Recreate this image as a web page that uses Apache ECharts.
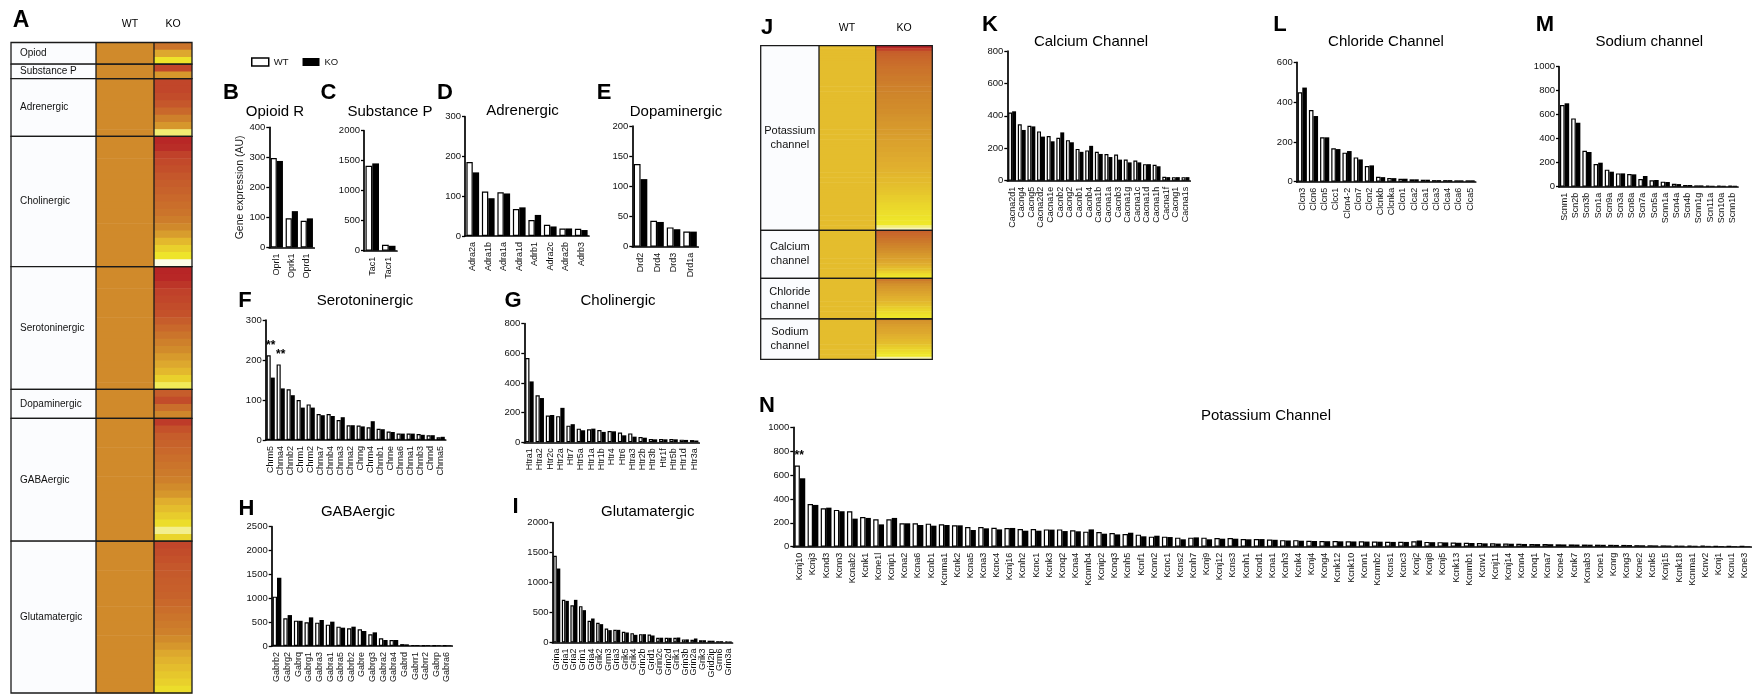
<!DOCTYPE html>
<html><head><meta charset="utf-8">
<script src="https://cdn.jsdelivr.net/npm/echarts@6/dist/echarts.min.js"></script>
<style>html,body{margin:0;padding:0;background:#fff}#c{width:1754px;height:698px}</style>
</head><body><div id="c"></div>
<script>
const FONT = '"Liberation Sans", Arial, Helvetica, sans-serif';

// ---------- Bar chart data ----------
const opioidGenes = ['Oprl1','Oprk1','Oprd1'];
const opioidWT = [298,97,89];
const opioidKO = [288,121,97];

const substancePGenes = ['Tac1','Tacr1'];
const substancePWT = [1415,100];
const substancePKO = [1455,82];

const adrenergicGenes = ['Adra2a','Adra1b','Adra1a','Adra1d','Adrb1','Adra2c','Adra2b','Adrb3'];
const adrenergicWT = [186,112,110,68,40,28,19,18];
const adrenergicKO = [160,95,107,72,53,24,19,15];

const dopaminergicGenes = ['Drd2','Drd4','Drd3','Drd1a'];
const dopaminergicWT = [137,43,32,25];
const dopaminergicKO = [112,41,29,25];

const serotoninergicGenes = ['Chrm5','Chrna4','Chrnb2','Chrm1','Chrm2','Chrna7','Chrnb4','Chrna3','Chrna2','Chrng','Chrm4','Chrnb1','Chrne','Chrna6','Chrna1','Chrnb3','Chrnd','Chrna5'];
const serotoninergicWT = [212,189,127,100,89,65,65,50,37,36,32,28,21,16,16,15,12,7];
const serotoninergicKO = [156,129,112,81,81,62,60,57,37,34,47,27,20,16,16,13,12,8];
const serotoninergicSignificant = ['Chrm5','Chrna4'];

const cholinergicGenes = ['Htra1','Htra2','Htr2c','Htr2a','Htr7','Htr5a','Htr1a','Htr1b','Htr4','Htr6','Htra3','Htr2b','Htr3b','Htr1f','Htr5b','Htr1d','Htr3a'];
const cholinergicWT = [568,316,180,176,112,92,88,82,76,66,60,36,22,22,22,18,15];
const cholinergicKO = [410,298,184,232,122,81,92,70,74,47,38,31,20,20,20,16,12];

const gabaergicGenes = ['Gabrb2','Gabrg2','Gabrq','Gabrg1','Gabra3','Gabra1','Gabra5','Gabrb2','Gabre','Gabrg3','Gabra2','Gabra4','Gabrd','Gabrr1','Gabrr2','Gabrp','Gabra6'];
const gabaergicWT = [1034,580,531,496,489,447,405,370,349,244,161,126,40,20,18,15,12];
const gabaergicKO = [1430,648,528,600,545,510,384,405,314,286,126,126,35,20,18,15,12];

const glutamatergicGenes = ['Grina','Gria1','Gria2','Grin1','Gria4','Grik2','Grm3','Gria3','Grik5','Grik4','Grin2b','Grid1','Grin2c','Grin2d','Grik1','Grin3b','Grin2a','Grik3','Grid2ip','Grm6','Grin3a'];
const glutamatergicWT = [1444,711,622,606,361,328,233,211,178,156,139,133,80,78,78,52,45,38,30,22,18];
const glutamatergicKO = [1233,694,711,539,400,306,206,211,167,128,139,117,80,78,83,52,67,38,30,22,18];

const calciumGenes = ['Cacna2d1','Cacng4','Cacng5','Cacna2d2','Cacna1e','Cacnb2','Cacng2','Cacnb1','Cacnb4','Cacna1b','Cacna1a','Cacnb3','Cacna1g','Cacna1c','Cacna1d','Cacna1h','Cacna1f','Cacng1','Cacna1s'];
const calciumWT = [420,348,339,304,276,265,250,196,187,178,165,161,130,124,102,98,24,22,22];
const calciumKO = [428,313,335,272,243,298,237,178,215,165,146,130,113,113,102,89,22,22,22];

const chlorideGenes = ['Clcn3','Clcn6','Clcn5','Clcc1','Clcn4-2','Clcn7','Clcn2','Clcnkb','Clcnka','Clcn1','Clca2','Clca1','Clca3','Clca4','Clca6','Clca5'];
const chlorideWT = [449,360,223,168,146,122,79,25,18,15,12,10,8,8,7,7];
const chlorideKO = [473,330,223,164,154,112,82,23,18,15,12,10,8,8,7,7];

const sodiumGenes = ['Scnm1','Scn2b','Scn3b','Scn1a','Scn9a','Scn3a','Scn8a','Scn7a','Scn5a','Scnn1a','Scn4a','Scn4b','Scnn1g','Scn11a','Scn10a','Scnn1b'];
const sodiumWT = [680,569,300,189,142,111,106,64,53,42,25,14,11,8,8,8];
const sodiumKO = [695,533,289,200,125,111,103,89,56,39,22,14,11,8,8,8];

const potassiumGenes = ['Kcnj10','Kcnj3','Kcnd3','Kcnn3','Kcnab2','Kcnk1','Kcne1l','Kcnip1','Kcna2','Kcna6','Kcnb1','Kcnma1','Kcnk2','Kcna5','Kcna3','Kcnc4','Kcnj16','Kcnh2','Kcnc1','Kcnk3','Kcnq2','Kcna4','Kcnmb4','Kcnip2','Kcnq3','Kcnh5','Kcnf1','Kcnn2','Kcnc1','Kcns2','Kcnh7','Kcnj9','Kcnj12','Kcns3','Kcnh1','Kcnd1','Kcna1','Kcnh3','Kcnk4','Kcnj4','Kcng4','Kcnk12','Kcnk10','Kcnn1','Kcnmb2','Kcns1','Kcnc3','Kcnj2','Kcnj8','Kcnj5','Kcnk13','Kcnmb1','Kcnv1','Kcnj11','Kcnj14','Kcnn4','Kcnq1','Kcna7','Kcne4','Kcnk7','Kcnab3','Kcne1','Kcnrg','Kcng3','Kcne2','Kcnk5','Kcnj15','Kcnk18','Kcnma1','Kcnv2','Kcnj1','Kcnu1','Kcne3'];
const potassiumWT = [680,358,322,308,297,249,229,229,196,196,193,187,179,165,165,159,157,148,148,145,145,137,126,123,115,106,101,84,84,76,76,76,73,73,64,64,60,55,55,50,48,47,46,45,44,42,42,45,40,38,35,33,30,28,26,24,23,22,20,19,18,17,16,15,13,12,11,10,9,8,6,5,4];
const potassiumKO = [573,350,327,297,235,241,187,241,196,182,176,182,179,140,154,145,157,134,134,143,131,129,145,109,103,117,87,92,81,62,78,62,67,67,62,64,58,52,50,48,46,45,44,43,42,40,40,52,38,36,33,31,28,26,25,23,22,21,19,18,17,16,15,14,12,11,10,9,8,7,6,5,4];
const potassiumSignificant = ['Kcnj10'];

// ---------- Heatmap data (relative level 0 = white .. 1 = red) ----------
const heatA_groups = ['Opiod','Substance P','Adrenergic','Cholinergic','Serotoninergic','Dopaminergic','GABAergic','Glutamatergic'];
const heatA_WT = 0.625;
const heatA_KO = [
  [0.70,0.52,0.27],
  [0.86,0.58],
  [0.86,0.86,0.84,0.80,0.74,0.66,0.58,0.17],
  [0.97,0.95,0.88,0.85,0.83,0.80,0.78,0.76,0.74,0.72,0.70,0.67,0.63,0.56,0.46,0.36,0.27,0.02],
  [0.98,0.97,0.92,0.88,0.86,0.84,0.82,0.78,0.74,0.70,0.66,0.62,0.57,0.52,0.46,0.36,0.20],
  [0.78,0.84,0.72,0.64],
  [0.90,0.82,0.78,0.76,0.74,0.72,0.70,0.68,0.66,0.62,0.58,0.50,0.44,0.38,0.30,0.14,0.34],
  [0.86,0.84,0.82,0.80,0.79,0.78,0.77,0.76,0.74,0.72,0.70,0.68,0.66,0.62,0.58,0.52,0.48,0.44,0.40,0.36,0.30]
];
const heatJ_groups = ['Potassium\nchannel','Calcium\nchannel','Chloride\nchannel','Sodium\nchannel'];
const heatJ_WT = 0.44;
const heatJ_KO = [
  [0.98,0.88,0.78,0.76,0.75,0.74,0.73,0.72,0.71,0.70,0.70,0.69,0.68,0.68,0.67,0.66,0.66,0.65,0.65,0.64,0.64,0.63,0.63,0.62,0.62,0.61,0.61,0.60,0.59,0.59,0.58,0.58,0.57,0.57,0.56,0.56,0.55,0.55,0.54,0.54,0.53,0.53,0.52,0.52,0.51,0.51,0.50,0.50,0.49,0.48,0.47,0.46,0.45,0.45,0.44,0.43,0.42,0.41,0.40,0.38,0.37,0.36,0.34,0.33,0.32,0.30,0.29,0.28,0.27,0.26,0.25,0.16,0.08],
  [0.76,0.74,0.72,0.70,0.68,0.66,0.64,0.62,0.60,0.58,0.56,0.54,0.52,0.50,0.46,0.42,0.36,0.30,0.25],
  [0.68,0.64,0.60,0.58,0.56,0.54,0.52,0.50,0.48,0.45,0.42,0.38,0.34,0.30,0.27,0.25],
  [0.60,0.58,0.56,0.54,0.53,0.52,0.50,0.48,0.46,0.44,0.40,0.36,0.32,0.28,0.25,0.10]
];
const heatColors = ['#fffef6','#f4f09a','#efe82a','#e8cd2c','#e0ae2e','#d08a2b','#c8652b','#c0422a','#b51f25'];

// ---------- Layout ----------
const barPanels = [
  {genes:opioidGenes, wt:opioidWT, ko:opioidKO, max:400, interval:100, box:[269.3,127.3,45,120.2], yName:'Gene expression (AU)'},
  {genes:substancePGenes, wt:substancePWT, ko:substancePKO, max:2000, interval:500, box:[364,130.7,33,120]},
  {genes:adrenergicGenes, wt:adrenergicWT, ko:adrenergicKO, max:300, interval:100, box:[465,116.7,124,119.3]},
  {genes:dopaminergicGenes, wt:dopaminergicWT, ko:dopaminergicKO, max:200, interval:50, box:[632.3,126,66,120.7]},
  {genes:serotoninergicGenes, wt:serotoninergicWT, ko:serotoninergicKO, max:300, interval:100, box:[265.7,320,180,120], sig:serotoninergicSignificant},
  {genes:cholinergicGenes, wt:cholinergicWT, ko:cholinergicKO, max:800, interval:200, box:[524.3,323.5,175,118.8]},
  {genes:gabaergicGenes, wt:gabaergicWT, ko:gabaergicKO, max:2500, interval:500, box:[271.7,526.7,180.6,119.3]},
  {genes:glutamatergicGenes, wt:glutamatergicWT, ko:glutamatergicKO, max:2000, interval:500, box:[552.5,522.5,180,120]},
  {genes:calciumGenes, wt:calciumWT, ko:calciumKO, max:800, interval:200, box:[1007.3,51,183,129.7]},
  {genes:chlorideGenes, wt:chlorideWT, ko:chlorideKO, max:600, interval:200, box:[1296.7,62.3,179,119.4]},
  {genes:sodiumGenes, wt:sodiumWT, ko:sodiumKO, max:1000, interval:200, box:[1559,66.7,179,120]},
  {genes:potassiumGenes, wt:potassiumWT, ko:potassiumKO, max:1000, interval:200, box:[793.3,427.3,958,119.4], sig:potassiumSignificant}
];

const heatPanels = [
  {groups:heatA_groups, wt:heatA_WT, ko:heatA_KO, box:[11,42.5,181,650.5], edges:[0,85,143,181], align:'left', fontSize:10},
  {groups:heatJ_groups, wt:heatJ_WT, ko:heatJ_KO, box:[760.7,45.7,171.6,313.6], edges:[0,58.3,115,171.6], align:'center', fontSize:11}
];

const texts = [
  // [text, x, y, size, bold]
  ['A',21,21,23,true],['B',231,92.5,22,true],['C',328.5,92.5,22,true],['D',445,92.5,22,true],['E',604,92.5,22,true],
  ['F',245,300.5,22,true],['G',513,300.5,22,true],['H',246.5,508.5,22,true],['I',515.5,506.5,22,true],
  ['J',767,28,22,true],['K',990,25,22,true],['L',1280,25,22,true],['M',1545,25,22,true],['N',767,406,22,true],
  ['Opioid R',275,112,15],['Substance P',390,112,15],['Adrenergic',522.5,111,15],['Dopaminergic',676,112,15],
  ['Serotoninergic',365,301,15],['Cholinergic',618,301,15],['GABAergic',358,512.3,15],['Glutamatergic',647.7,512.3,15],
  ['Calcium Channel',1091,42.3,15],['Chloride Channel',1386,42.3,15],['Sodium channel',1649.3,42.3,15],['Potassium Channel',1266,416,15],
  ['WT',130,24.5,10.5],['KO',173,24.5,10.5],['WT',847,28,10.5],['KO',904,28,10.5]
];

// ---------- Build option ----------
const grid = [], xAxis = [], yAxis = [], series = [];
const axisLineStyle = {color:'#000', width:1.7};

barPanels.forEach((p, i) => {
  grid.push({left:p.box[0], top:p.box[1], width:p.box[2], height:p.box[3]});
  xAxis.push({type:'category', gridIndex:i, data:p.genes,
    axisLine:{lineStyle:axisLineStyle},
    axisTick:{alignWithLabel:true, length:4, lineStyle:{color:'#000', width:1.3}},
    axisLabel:{rotate:90, interval:0, fontSize:9, color:'#111', fontFamily:FONT, margin:6}});
  const y = {type:'value', gridIndex:i, min:0, max:p.max, interval:p.interval,
    axisLine:{show:true, lineStyle:axisLineStyle},
    axisTick:{show:true, length:3, lineStyle:{color:'#000', width:1.3}},
    splitLine:{show:false},
    axisLabel:{fontSize:9.5, color:'#111', fontFamily:FONT, margin:4, formatter:v => String(v)}};
  if (p.yName) {
    Object.assign(y, {name:p.yName, nameLocation:'middle', nameRotate:90, nameGap:22,
      nameTextStyle:{fontSize:10.5, color:'#1a1a1a', fontFamily:FONT}});
  }
  yAxis.push(y);
  const sig = p.sig || [];
  series.push({type:'bar', name:'WT', xAxisIndex:i, yAxisIndex:i, barGap:'0%', barCategoryGap:'18%',
    itemStyle:{color:'#fff', borderColor:'#000', borderWidth:1.2},
    data:p.wt.map((v,k) => sig.indexOf(p.genes[k]) >= 0 && k === p.genes.indexOf(p.genes[k])
      ? {value:v, label:{show:true, position:'top', formatter:'**', offset:[2,1], fontSize:12, fontWeight:'bold', color:'#000', fontFamily:FONT}}
      : v)});
  series.push({type:'bar', name:'KO', xAxisIndex:i, yAxisIndex:i, barGap:'0%', barCategoryGap:'18%',
    itemStyle:{color:'#000'}, data:p.ko});
});

const heatSeriesIdx = [];
heatPanels.forEach((h, j) => {
  const gi = barPanels.length + j;
  const total = h.ko.reduce((s,a) => s + a.length, 0);
  grid.push({left:h.box[0], top:h.box[1], width:h.box[2], height:h.box[3]});
  xAxis.push({type:'value', gridIndex:gi, min:0, max:h.edges[3], show:false});
  yAxis.push({type:'value', gridIndex:gi, min:0, max:total, inverse:true, show:false});
  const cells = [], frames = [];
  let row = 0;
  h.ko.forEach((arr, g) => {
    const start = row;
    arr.forEach(v => { cells.push([1, row, h.wt]); cells.push([2, row, v]); row++; });
    frames.push([start, row, g]);
  });
  const edges = h.edges;
  heatSeriesIdx.push(series.length);
  series.push({type:'custom', name:'heat'+j, xAxisIndex:gi, yAxisIndex:gi, z:2, silent:true,
    encode:{x:0, y:1},
    renderItem:(params, api) => {
      const c = api.value(0), r = api.value(1);
      const p0 = api.coord([edges[c], r]);
      const p1 = api.coord([edges[c+1], r+1]);
      return {type:'rect', shape:{x:p0[0], y:p0[1], width:p1[0]-p0[0], height:p1[1]-p0[1]+0.6},
        style:{fill:api.visual('color')}};
    },
    data:cells});
  series.push({type:'custom', name:'frame'+j, xAxisIndex:gi, yAxisIndex:gi, z:3, silent:true,
    encode:{x:2, y:0},
    renderItem:(params, api) => {
      const s = api.value(0), e = api.value(1), g = api.value(2);
      const tl = api.coord([edges[0], s]);
      const br = api.coord([edges[3], e]);
      const x1 = api.coord([edges[1], s])[0];
      const x2 = api.coord([edges[2], s])[0];
      const ty = (tl[1] + br[1]) / 2;
      const tx = h.align === 'left' ? tl[0] + 9 : (tl[0] + x1) / 2;
      return {type:'group', children:[
        {type:'rect', shape:{x:tl[0], y:tl[1], width:x1-tl[0], height:br[1]-tl[1]}, style:{fill:'#fbfcfe'}},
        {type:'rect', shape:{x:tl[0], y:tl[1], width:br[0]-tl[0], height:br[1]-tl[1]}, style:{fill:'none', stroke:'#1a1a1a', lineWidth:1.3}},
        {type:'line', shape:{x1:x1, y1:tl[1], x2:x1, y2:br[1]}, style:{stroke:'#1a1a1a', lineWidth:1.3}},
        {type:'line', shape:{x1:x2, y1:tl[1], x2:x2, y2:br[1]}, style:{stroke:'#1a1a1a', lineWidth:1.3}},
        {type:'text', x:tx, y:ty, style:{text:h.groups[g], align:h.align, verticalAlign:'middle',
          fontSize:h.fontSize, fontFamily:FONT, fill:'#111', lineHeight:h.fontSize+3}}
      ]};
    },
    data:frames});
});

const graphicEls = texts.map(t => ({type:'text', x:t[1], y:t[2], silent:true,
  style:{text:t[0], fontSize:t[3], fontWeight:t[4] ? 'bold' : 'normal', fontFamily:FONT, fill:'#000',
    align:'center', verticalAlign:'middle'}}));

const option = {
  animation:false,
  backgroundColor:'#fff',
  grid, xAxis, yAxis, series,
  visualMap:[{type:'continuous', show:false, seriesIndex:heatSeriesIdx, dimension:2, min:0, max:1,
    inRange:{color:heatColors}}],
  legend:{left:251, top:57, padding:0, itemWidth:17, itemHeight:8, itemGap:14, selectedMode:false,
    textStyle:{fontSize:9.5, color:'#111', fontFamily:FONT},
    data:[{name:'WT', icon:'rect', itemStyle:{color:'#fff', borderColor:'#000', borderWidth:1.5}},
          {name:'KO', icon:'rect', itemStyle:{color:'#000', borderWidth:0}}]},
  graphic:{elements:graphicEls}
};

const chart = echarts.init(document.getElementById('c'), null, {renderer:'canvas'});
chart.setOption(option);
</script></body></html>
